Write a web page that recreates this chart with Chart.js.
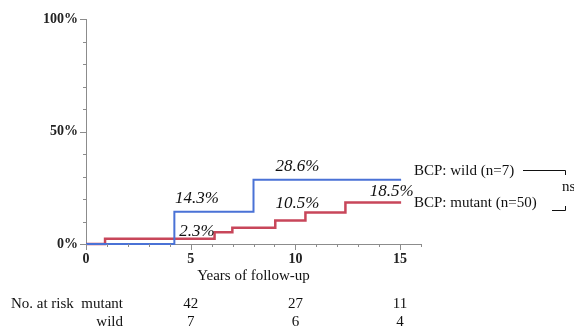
<!DOCTYPE html>
<html>
<head>
<meta charset="utf-8">
<script src="https://cdn.jsdelivr.net/npm/chart.js@4/dist/chart.umd.min.js"></script>
<style>
  body { margin: 0; background: #fff; }
</style>
</head>
<body>
<canvas id="kmChart" width="574" height="327"></canvas>
<script>
// cumulative incidence
const wildTimes = [0, 4.22, 8.0, 15.05];
const wildRisk = [0, 14.3, 28.6, 28.6];
const mutantTimes = [0, 0.91, 6.14, 6.99, 9.04, 10.48, 12.39, 15.05];
const mutantRisk = [0, 2.3, 5.2, 7.2, 10.5, 14.0, 18.5, 18.5];

const xTicks = [0, 5, 10, 15];
const yTicks = [0, 50, 100];

// percent annotations (text, anchor in years / %)
const pctLabels = ['14.3%', '28.6%', '2.3%', '10.5%', '18.5%'];
const pctLabelX = [5.3, 10.1, 5.3, 10.1, 14.6];
const pctLabelY = [20.1, 34.5, 5.6, 17.9, 23.4];

const legendLabels = ['BCP: wild (n=7)', 'BCP: mutant (n=50)'];

const riskTimes = [5, 10, 15];
const riskMutant = [42, 27, 11];
const riskWild = [7, 6, 4];

const SERIF = '"Liberation Serif", "Times New Roman", serif';
const BLUE = '#4a72d6';
const RED = '#c8465a';
const AXIS = '#8c8c8c';

const toPoints = (xs, ys) => xs.map((x, i) => ({ x: x, y: ys[i] }));

const extras = {
  id: 'extras',
  afterDraw(chart) {
    const ctx = chart.ctx;
    const xs = chart.scales.x, ys = chart.scales.y;
    const area = chart.chartArea;
    ctx.save();

    // tick marks
    ctx.strokeStyle = AXIS;
    ctx.lineWidth = 1;
    ctx.beginPath();
    for (let v = 0; v <= 16; v++) {
      const px = Math.round(xs.getPixelForValue(v)) + 0.5;
      const len = v % 5 === 0 ? 6 : 3;
      ctx.moveTo(px, area.bottom);
      ctx.lineTo(px, area.bottom + len);
    }
    for (let v = 0; v <= 100; v += 10) {
      const py = Math.round(ys.getPixelForValue(v)) + 0.5;
      const len = v % 50 === 0 ? 6 : 3;
      ctx.moveTo(area.left, py);
      ctx.lineTo(area.left - len, py);
    }
    ctx.stroke();

    // percent annotations
    ctx.fillStyle = '#111';
    ctx.font = 'italic 17px ' + SERIF;
    ctx.textAlign = 'center';
    ctx.textBaseline = 'middle';
    pctLabels.forEach((t, i) => {
      ctx.fillText(t, xs.getPixelForValue(pctLabelX[i]), ys.getPixelForValue(pctLabelY[i]));
    });

    // legend + ns bracket
    ctx.font = '15px ' + SERIF;
    ctx.textAlign = 'left';
    const lx = area.right - 7;
    ctx.fillText(legendLabels[0], lx, 171);
    ctx.fillText(legendLabels[1], lx, 203);
    ctx.strokeStyle = '#111';
    ctx.beginPath();
    ctx.moveTo(523, 170.5); ctx.lineTo(565.5, 170.5); ctx.lineTo(565.5, 175);
    ctx.moveTo(552, 210.5); ctx.lineTo(565.5, 210.5); ctx.lineTo(565.5, 206);
    ctx.stroke();
    ctx.fillText('ns', 562, 187);

    // axis title
    ctx.textAlign = 'center';
    ctx.fillText('Years of follow-up', (area.left + area.right) / 2, 276);

    // risk table
    ctx.textAlign = 'right';
    ctx.fillText('No. at risk  mutant', 123, 304);
    ctx.fillText('wild', 123, 322);
    ctx.textAlign = 'center';
    riskTimes.forEach((t, i) => {
      const px = xs.getPixelForValue(t);
      ctx.fillText(String(riskMutant[i]), px, 304);
      ctx.fillText(String(riskWild[i]), px, 322);
    });
    ctx.restore();
  }
};

const tickFont = { family: SERIF, size: 14, weight: 'bold' };

new Chart(document.getElementById('kmChart').getContext('2d'), {
  type: 'line',
  data: {
    datasets: [{
      label: 'wild',
      data: toPoints(wildTimes, wildRisk),
      borderColor: BLUE,
      borderWidth: 2,
      stepped: true,
      pointRadius: 0,
      fill: false,
      clip: 6
    }, {
      label: 'mutant',
      data: toPoints(mutantTimes, mutantRisk),
      borderColor: RED,
      borderWidth: 2.5,
      stepped: true,
      pointRadius: 0,
      fill: false,
      clip: 6
    }]
  },
  options: {
    responsive: false,
    animation: false,
    layout: { padding: { left: 0, top: 19, right: 153, bottom: 0 } },
    plugins: { legend: { display: false }, tooltip: { enabled: false } },
    scales: {
      x: {
        type: 'linear',
        min: 0,
        max: 16,
        afterBuildTicks: s => { s.ticks = xTicks.map(v => ({ value: v })); },
        afterFit: s => { s.height = 83; },
        grid: { display: false, drawTicks: false },
        border: { display: true, color: AXIS, width: 1 },
        ticks: { padding: 7, font: tickFont, color: '#222' }
      },
      y: {
        min: 0,
        max: 100,
        afterBuildTicks: s => { s.ticks = yTicks.map(v => ({ value: v })); },
        afterFit: s => { s.width = 86; },
        grid: { display: false, drawTicks: false },
        border: { display: true, color: AXIS, width: 1 },
        ticks: { padding: 8, font: tickFont, color: '#222', callback: v => v + '%' }
      }
    }
  },
  plugins: [extras]
});
</script>
</body>
</html>
